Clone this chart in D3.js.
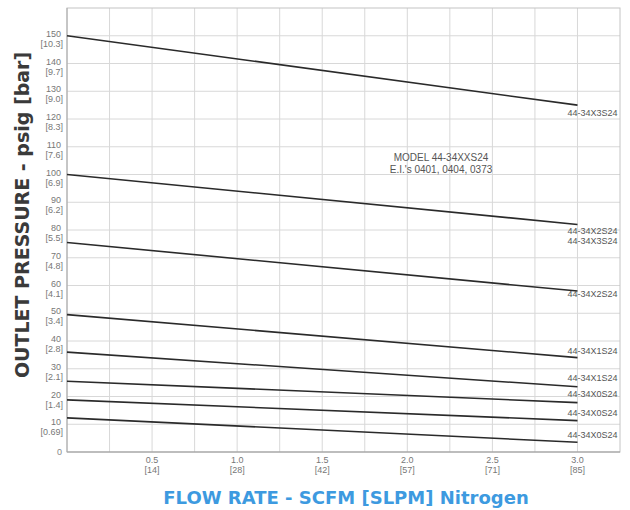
<!DOCTYPE html>
<html><head>
<meta charset="utf-8">
<script src="https://d3js.org/d3.v7.min.js"></script>
<style>
  body { margin:0; background:#fff; }
  text { font-family: "Liberation Sans", Arial, sans-serif; }
</style>
</head>
<body>
<svg id="chart" width="630" height="510"></svg>
<script>
  // flow (SCFM) at the two ends of each line
  const flowEnds = [0, 3.0];

  // outlet pressure (psig) at flow 0 and flow 3.0
  const seriesStart = [150, 100, 75.5, 49.5, 36, 25.5, 18.8, 12.3];
  const seriesEnd   = [125, 82, 58, 34, 23.5, 17.8, 11.3, 3.5];

  // end labels of the lines
  const endLabels = [
    {text:"44-34X3S24", p:121},
    {text:"44-34X2S24", p:78.5},
    {text:"44-34X3S24", p:75},
    {text:"44-34X2S24", p:56},
    {text:"44-34X1S24", p:35.2},
    {text:"44-34X1S24", p:25.5},
    {text:"44-34X0S24", p:19.7},
    {text:"44-34X0S24", p:13},
    {text:"44-34X0S24", p:5}
  ];

  const yTicks = [10,20,30,40,50,60,70,80,90,100,110,120,130,140,150];
  const yBar   = ["[0.69]","[1.4]","[2.1]","[2.8]","[3.4]","[4.1]","[4.8]","[5.5]","[6.2]","[6.9]","[7.6]","[8.3]","[9.0]","[9.7]","[10.3]"];
  const xTicks = [0.5,1.0,1.5,2.0,2.5,3.0];
  const xSlpm  = ["[14]","[28]","[42]","[57]","[71]","[85]"];

  let svg = d3.select("svg#chart");

  let x = d3.scaleLinear().domain([0,3.25]).range([67,620]);
  let y = d3.scaleLinear().domain([0,160]).range([452,8]);

  // grid
  d3.range(0.25,3.25,0.25).forEach(v => {
    svg.append("line")
       .attr("x1",x(v)).attr("x2",x(v))
       .attr("y1",y(0)).attr("y2",y(160))
       .style("stroke","#d8d8d8").style("stroke-width",1);
  });
  d3.range(10,160,10).forEach(v => {
    svg.append("line")
       .attr("x1",x(0)).attr("x2",x(3.25))
       .attr("y1",y(v)).attr("y2",y(v))
       .style("stroke","#d8d8d8").style("stroke-width",1);
  });

  // frame
  svg.append("rect")
     .attr("x",x(0)).attr("y",y(160))
     .attr("width",x(3.25)-x(0)).attr("height",y(0)-y(160))
     .style("fill","none").style("stroke","#c4c4c4").style("stroke-width",1);
  svg.append("line")
     .attr("x1",x(0)).attr("x2",x(3.25)).attr("y1",y(0)).attr("y2",y(0))
     .style("stroke","#999").style("stroke-width",1);
  svg.append("line")
     .attr("x1",x(0)).attr("x2",x(0)).attr("y1",y(0)).attr("y2",y(160))
     .style("stroke","#aaa").style("stroke-width",1);

  // y tick labels
  svg.append("text").text("0")
     .attr("x",62).attr("y",y(0)+3)
     .style("font-size","9px").style("fill","#888").style("text-anchor","end");
  yTicks.forEach((d,i) => {
    svg.append("text").text(d)
       .attr("x",61).attr("y",y(d)+1)
       .style("font-size","9px").style("fill","#777").style("text-anchor","end");
    svg.append("text").text(yBar[i])
       .attr("x",63).attr("y",y(d)+11)
       .style("font-size","9px").style("fill","#777").style("text-anchor","end");
  });

  // x tick labels
  xTicks.forEach((d,i) => {
    svg.append("text").text(d.toFixed(1))
       .attr("x",x(d)).attr("y",463)
       .style("font-size","9px").style("fill","#777").style("text-anchor","middle");
    svg.append("text").text(xSlpm[i])
       .attr("x",x(d)).attr("y",473)
       .style("font-size","9px").style("fill","#777").style("text-anchor","middle");
  });

  // pressure lines
  seriesStart.forEach((s,i) => {
    svg.append("line")
       .attr("x1",x(flowEnds[0])).attr("y1",y(s))
       .attr("x2",x(flowEnds[1])).attr("y2",y(seriesEnd[i]))
       .style("stroke","#2a2a2a").style("stroke-width",1.6);
  });

  endLabels.forEach(d => {
    svg.append("text").text(d.text)
       .attr("x",x(3.0)-10).attr("y",y(d.p))
       .style("font-size","9px").style("fill","#555");
  });

  // model note
  svg.append("text").text("MODEL 44-34XXS24")
     .attr("x",441).attr("y",161)
     .style("font-size","10px").style("fill","#555").style("text-anchor","middle");
  svg.append("text").text("E.I.'s 0401, 0404, 0373")
     .attr("x",441).attr("y",173)
     .style("font-size","10px").style("fill","#555").style("text-anchor","middle");

  // axis titles
  svg.append("text").text("OUTLET PRESSURE - psig [bar]")
     .attr("transform","translate(29,215) rotate(-90)")
     .style("font-family","'DejaVu Sans', sans-serif")
     .style("font-size","19px").style("font-weight","bold").style("fill","#3a3a3a")
     .style("text-anchor","middle");
  svg.append("text").text("FLOW RATE - SCFM [SLPM] Nitrogen")
     .attr("x",346).attr("y",504)
     .style("font-family","'DejaVu Sans', sans-serif")
     .style("font-size","18px").style("font-weight","bold").style("fill","#3d9ae0")
     .style("text-anchor","middle");
</script>
</body>
</html>
